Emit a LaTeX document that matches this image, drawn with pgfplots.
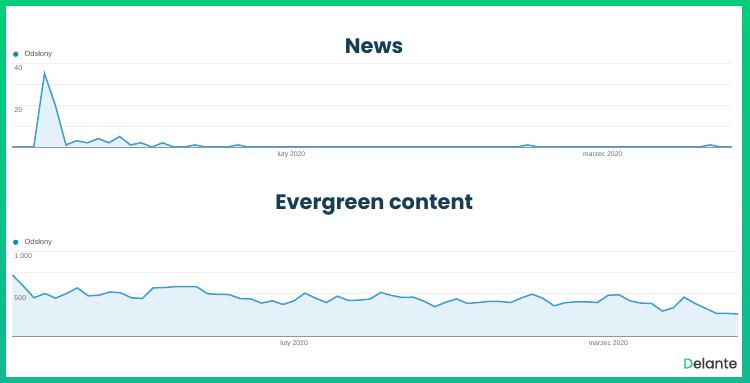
\documentclass[border=0pt]{standalone}
\usepackage{pgfplots}
\pgfplotsset{compat=1.18}
\usepackage{pgfplotstable}
\usepackage{fontspec}
\setmainfont{Liberation Sans}
\newfontfamily\popfont{Poppins}
\newfontfamily\poplogo{Poppins}[FakeBold=1]

\definecolor{frtop}{RGB}{0,206,122}
\definecolor{frbot}{RGB}{20,184,145}
\definecolor{titlecol}{RGB}{22,62,87}
\definecolor{linecol}{RGB}{58,158,218}
\definecolor{fillcol}{RGB}{228,241,249}
\definecolor{legdot}{RGB}{5,141,199}
\definecolor{gridcol}{RGB}{240,240,240}
\definecolor{basecol}{RGB}{150,150,150}
\definecolor{labcol}{RGB}{110,110,110}
\definecolor{legtext}{RGB}{85,85,85}
\definecolor{dgreen}{RGB}{40,200,140}
\definecolor{dgrey}{RGB}{60,60,60}

\pgfplotstableread{
i v
0 0
1 0
2 0
3 35
4 20
5 1
6 3
7 2
8 4
9 2
10 5
11 1
12 2
13 0
14 2
15 0
16 0
17 1
18 0
19 0
20 0
21 1
22 0
23 0
24 0
25 0
26 0
27 0
28 0
29 0
30 0
31 0
32 0
33 0
34 0
35 0
36 0
37 0
38 0
39 0
40 0
41 0
42 0
43 0
44 0
45 0
46 0
47 0
48 1
49 0
50 0
51 0
52 0
53 0
54 0
55 0
56 0
57 0
58 0
59 0
60 0
61 0
62 0
63 0
64 0
65 1
66 0
67 0
}\newsdata

\pgfplotstableread{
i v
0 720
1 590
2 450
3 500
4 445
5 500
6 566
7 472
8 480
9 518
10 508
11 449
12 441
13 566
14 570
15 580
16 582
17 582
18 498
19 490
20 488
21 441
22 436
23 387
24 414
25 371
26 414
27 504
28 445
29 394
30 469
31 418
32 422
33 434
34 512
35 477
36 453
37 457
38 410
39 344
40 398
41 437
42 383
43 394
44 406
45 406
46 394
47 449
48 492
49 441
50 355
51 391
52 402
53 402
54 394
55 480
56 484
57 414
58 387
59 383
60 293
61 332
62 457
63 383
64 324
65 266
66 266
67 258
}\everdata

\pgfplotsset{
  gastyle/.style={
  scale only axis, anchor=south west, xmin=0, xmax=67,
  axis x line*=bottom, axis y line*=left,
  y axis line style={draw=none},
  x axis line style={draw=basecol, line width=0.8bp, -},
  major tick length=0pt,
  ymajorgrids, grid style={gridcol, line width=0.7bp},
  xtick={26,55}, xticklabels={luty 2020, marzec 2020},
  xticklabel style={font=\fontsize{6.8}{7}\selectfont, text=labcol, yshift=-1.5bp},
  yticklabels={},
  legend style={draw=none, fill=none, at={(axis description cs:0,1)}, anchor=west, xshift=0.6bp, yshift=8.7bp, font=\fontsize{7.5}{8}\selectfont, text=legtext, inner sep=0pt, legend cell align=left},
  legend image code/.code={\fill[legdot, draw=none] (2.6bp,0bp) circle (2.6bp); \path[draw=none, fill=none] (0bp,0bp) rectangle (9.5bp,0bp);},
  },
  labstyle/.style={
  scale only axis, anchor=south west, xmin=0, xmax=67,
  hide x axis, axis y line*=left, y axis line style={draw=none},
  major tick length=0pt,
  yticklabel style={anchor=north west, font=\fontsize{7}{8}\selectfont, text=labcol, inner sep=0pt, xshift=2bp, yshift=-2bp},
  },
}

\begin{document}
\begin{tikzpicture}[x=1bp,y=1bp]
\path[use as bounding box] (0bp,0bp) rectangle (750bp,383bp);
\shade[top color=frtop, bottom color=frbot] (0bp,0bp) rectangle (750bp,383bp);
\fill[white] (6bp,6bp) rectangle (742bp,377bp);

\node[anchor=base, font=\popfont\bfseries\fontsize{21}{21}\selectfont, text=titlecol, inner sep=0pt] at (374.2bp,329.7bp) {News};
\node[anchor=base, font=\popfont\bfseries\fontsize{21}{21}\selectfont, text=titlecol, inner sep=0pt] at (374.2bp,173bp) {Evergreen content};

\begin{axis}[gastyle, at={(12.3bp,236bp)}, width=719.2bp, height=84bp,
  ymin=0, ymax=40, ytick={0,10,20,30,40}]
  \addplot[draw=none, fill=fillcol, forget plot] table[x=i,y=v] {\newsdata} \closedcycle;
  \addplot[linecol, line width=1.5bp] table[x=i,y=v] {\newsdata};
  \addlegendentry{Odsłony}
\end{axis}
\begin{axis}[labstyle, at={(12.3bp,236bp)}, width=719.2bp, height=84bp,
  ymin=0, ymax=40, ytick={20,40}, yticklabels={20,40}]
\end{axis}

\begin{axis}[gastyle, at={(12.3bp,47bp)}, width=726bp, height=85bp,
  ymin=0, ymax=1000, ytick={0,250,500,750,1000}]
  \addplot[draw=none, fill=fillcol, forget plot] table[x=i,y=v] {\everdata} \closedcycle;
  \addplot[linecol, line width=1.5bp] table[x=i,y=v] {\everdata};
  \addlegendentry{Odsłony}
\end{axis}
\begin{axis}[labstyle, at={(12.3bp,47bp)}, width=726bp, height=85bp,
  ymin=0, ymax=1000, ytick={500,1000}, yticklabels={500,1 000}]
\end{axis}

\node[anchor=base west, inner sep=0pt, font=\poplogo\fontsize{14}{14}\selectfont] at (683bp,14.7bp) {\textcolor{dgreen}{D}\textcolor{dgrey}{elante}};
\end{tikzpicture}
\end{document}
